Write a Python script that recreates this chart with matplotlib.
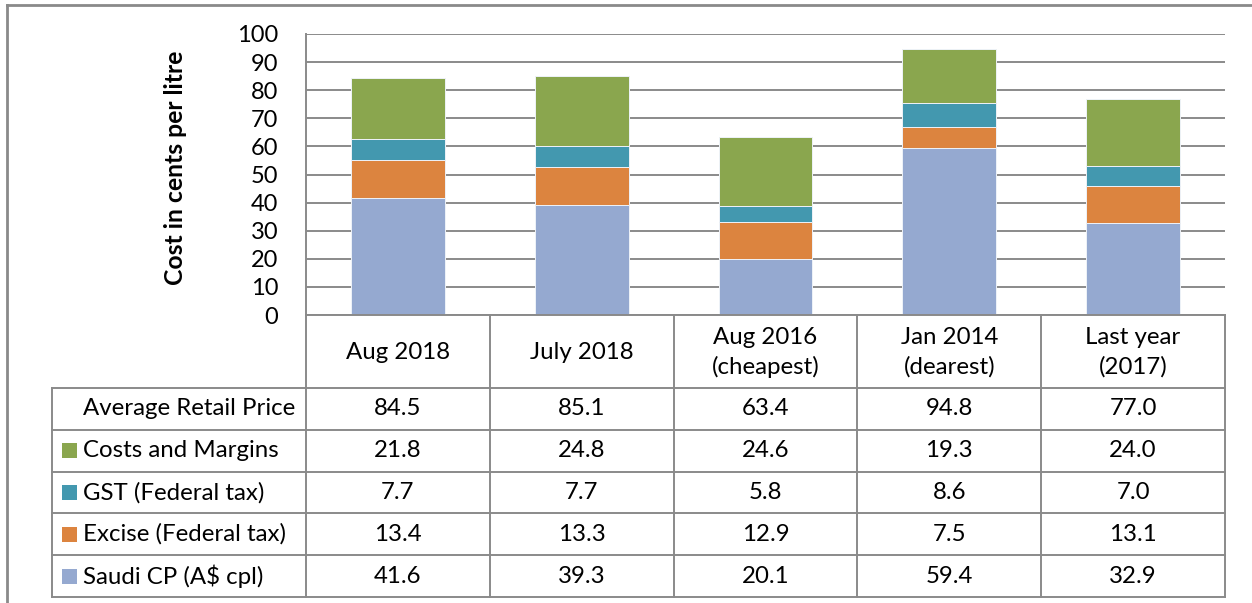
import matplotlib.pyplot as plt
from matplotlib.patches import Rectangle

# chart data
categories = ["Aug 2018", "July 2018", "Aug 2016\n(cheapest)", "Jan 2014\n(dearest)", "Last year\n(2017)"]
avg_retail = [84.5, 85.1, 63.4, 94.8, 77.0]
costs_margins = [21.8, 24.8, 24.6, 19.3, 24.0]
gst = [7.7, 7.7, 5.8, 8.6, 7.0]
excise = [13.4, 13.3, 12.9, 7.5, 13.1]
saudi_cp = [41.6, 39.3, 20.1, 59.4, 32.9]

# stacking order (bottom -> top)
stack_names = ["Saudi CP (A$ cpl)", "Excise (Federal tax)", "GST (Federal tax)", "Costs and Margins"]
stack_values = [saudi_cp, excise, gst, costs_margins]
stack_colors = ["#95A9D0", "#DC843F", "#4398AF", "#8AA64E"]

# table row order (top -> bottom)
row_names = ["Average Retail Price", "Costs and Margins", "GST (Federal tax)",
             "Excise (Federal tax)", "Saudi CP (A$ cpl)"]
row_values = [avg_retail, costs_margins, gst, excise, saudi_cp]
row_colors = [None, "#8AA64E", "#4398AF", "#DC843F", "#95A9D0"]

plt.rcParams['font.family'] = ['Lato', 'DejaVu Sans']
GRID = "#8a8a8a"
FS = 17.3

W, H = 1252, 603
fig = plt.figure(figsize=(W / 100, H / 100), dpi=100)

# plot area in pixels
left, right, top, bottom = 306, 1225, 34, 315
ax = fig.add_axes([left / W, 1 - bottom / H, (right - left) / W, (bottom - top) / H])
ax.set_xlim(-0.5, len(categories) - 0.5)
ax.set_ylim(0, 100)
ax.set_yticks(range(0, 101, 10))
ax.yaxis.grid(True, color=GRID, lw=1.4)
ax.set_axisbelow(True)
ax.tick_params(axis='y', length=0, pad=20, labelsize=17)
ax.tick_params(axis='x', length=0, labelbottom=False)
for s in ["top", "right"]:
    ax.spines[s].set_visible(False)
for s in ["left", "bottom"]:
    ax.spines[s].set_color(GRID)
    ax.spines[s].set_linewidth(1.4)
ax.set_ylabel("Cost in cents per litre", fontsize=17.8, fontweight='bold')
ax.yaxis.set_label_coords((187 - left) / (right - left), 0.523)

x = list(range(len(categories)))
base = [0.0] * len(categories)
for name, vals, col in zip(stack_names, stack_values, stack_colors):
    ax.bar(x, vals, bottom=base, width=0.51, color=col, edgecolor="#eef2f8", linewidth=0.7, label=name)
    base = [b + v for b, v in zip(base, vals)]

# overlay in pixel coordinates for the data table and frame
ov = fig.add_axes([0, 0, 1, 1])
ov.set_xlim(0, W)
ov.set_ylim(H, 0)
ov.axis('off')
ov.patch.set_visible(False)

# outer frame
ov.plot([7, W], [5, 5], color=GRID, lw=2)
ov.plot([7, 7], [5, H], color=GRID, lw=2)

col_x = [ax.transData.transform((i - 0.5, 0))[0] for i in range(len(categories) + 1)]
header_bottom = 388
table_left = 52
table_bottom = 597
row_h = (table_bottom - header_bottom) / len(row_names)
row_y = [header_bottom + i * row_h for i in range(len(row_names) + 1)]

lw = 1.4
for cx in col_x:
    ov.plot([cx, cx], [bottom, table_bottom], color=GRID, lw=lw)
ov.plot([table_left, table_left], [header_bottom, table_bottom], color=GRID, lw=lw)
for ry in row_y:
    ov.plot([table_left, col_x[-1]], [ry, ry], color=GRID, lw=lw)

# header cells
for i, cat in enumerate(categories):
    ov.text((col_x[i] + col_x[i + 1]) / 2, (bottom + header_bottom) / 2 + 1, cat,
            ha='center', va='center', multialignment='center', fontsize=FS, linespacing=1.45)

# data rows
for r, (name, vals, col) in enumerate(zip(row_names, row_values, row_colors)):
    cy = (row_y[r] + row_y[r + 1]) / 2
    if col is not None:
        ov.add_patch(Rectangle((62, cy - 7.5), 15, 15, color=col, lw=0))
    ov.text(83, cy, name, ha='left', va='center', fontsize=FS)
    for i, v in enumerate(vals):
        ov.text((col_x[i] + col_x[i + 1]) / 2, cy, f"{v:.1f}", ha='center', va='center', fontsize=FS)

fig.savefig("out.png", dpi=100)
